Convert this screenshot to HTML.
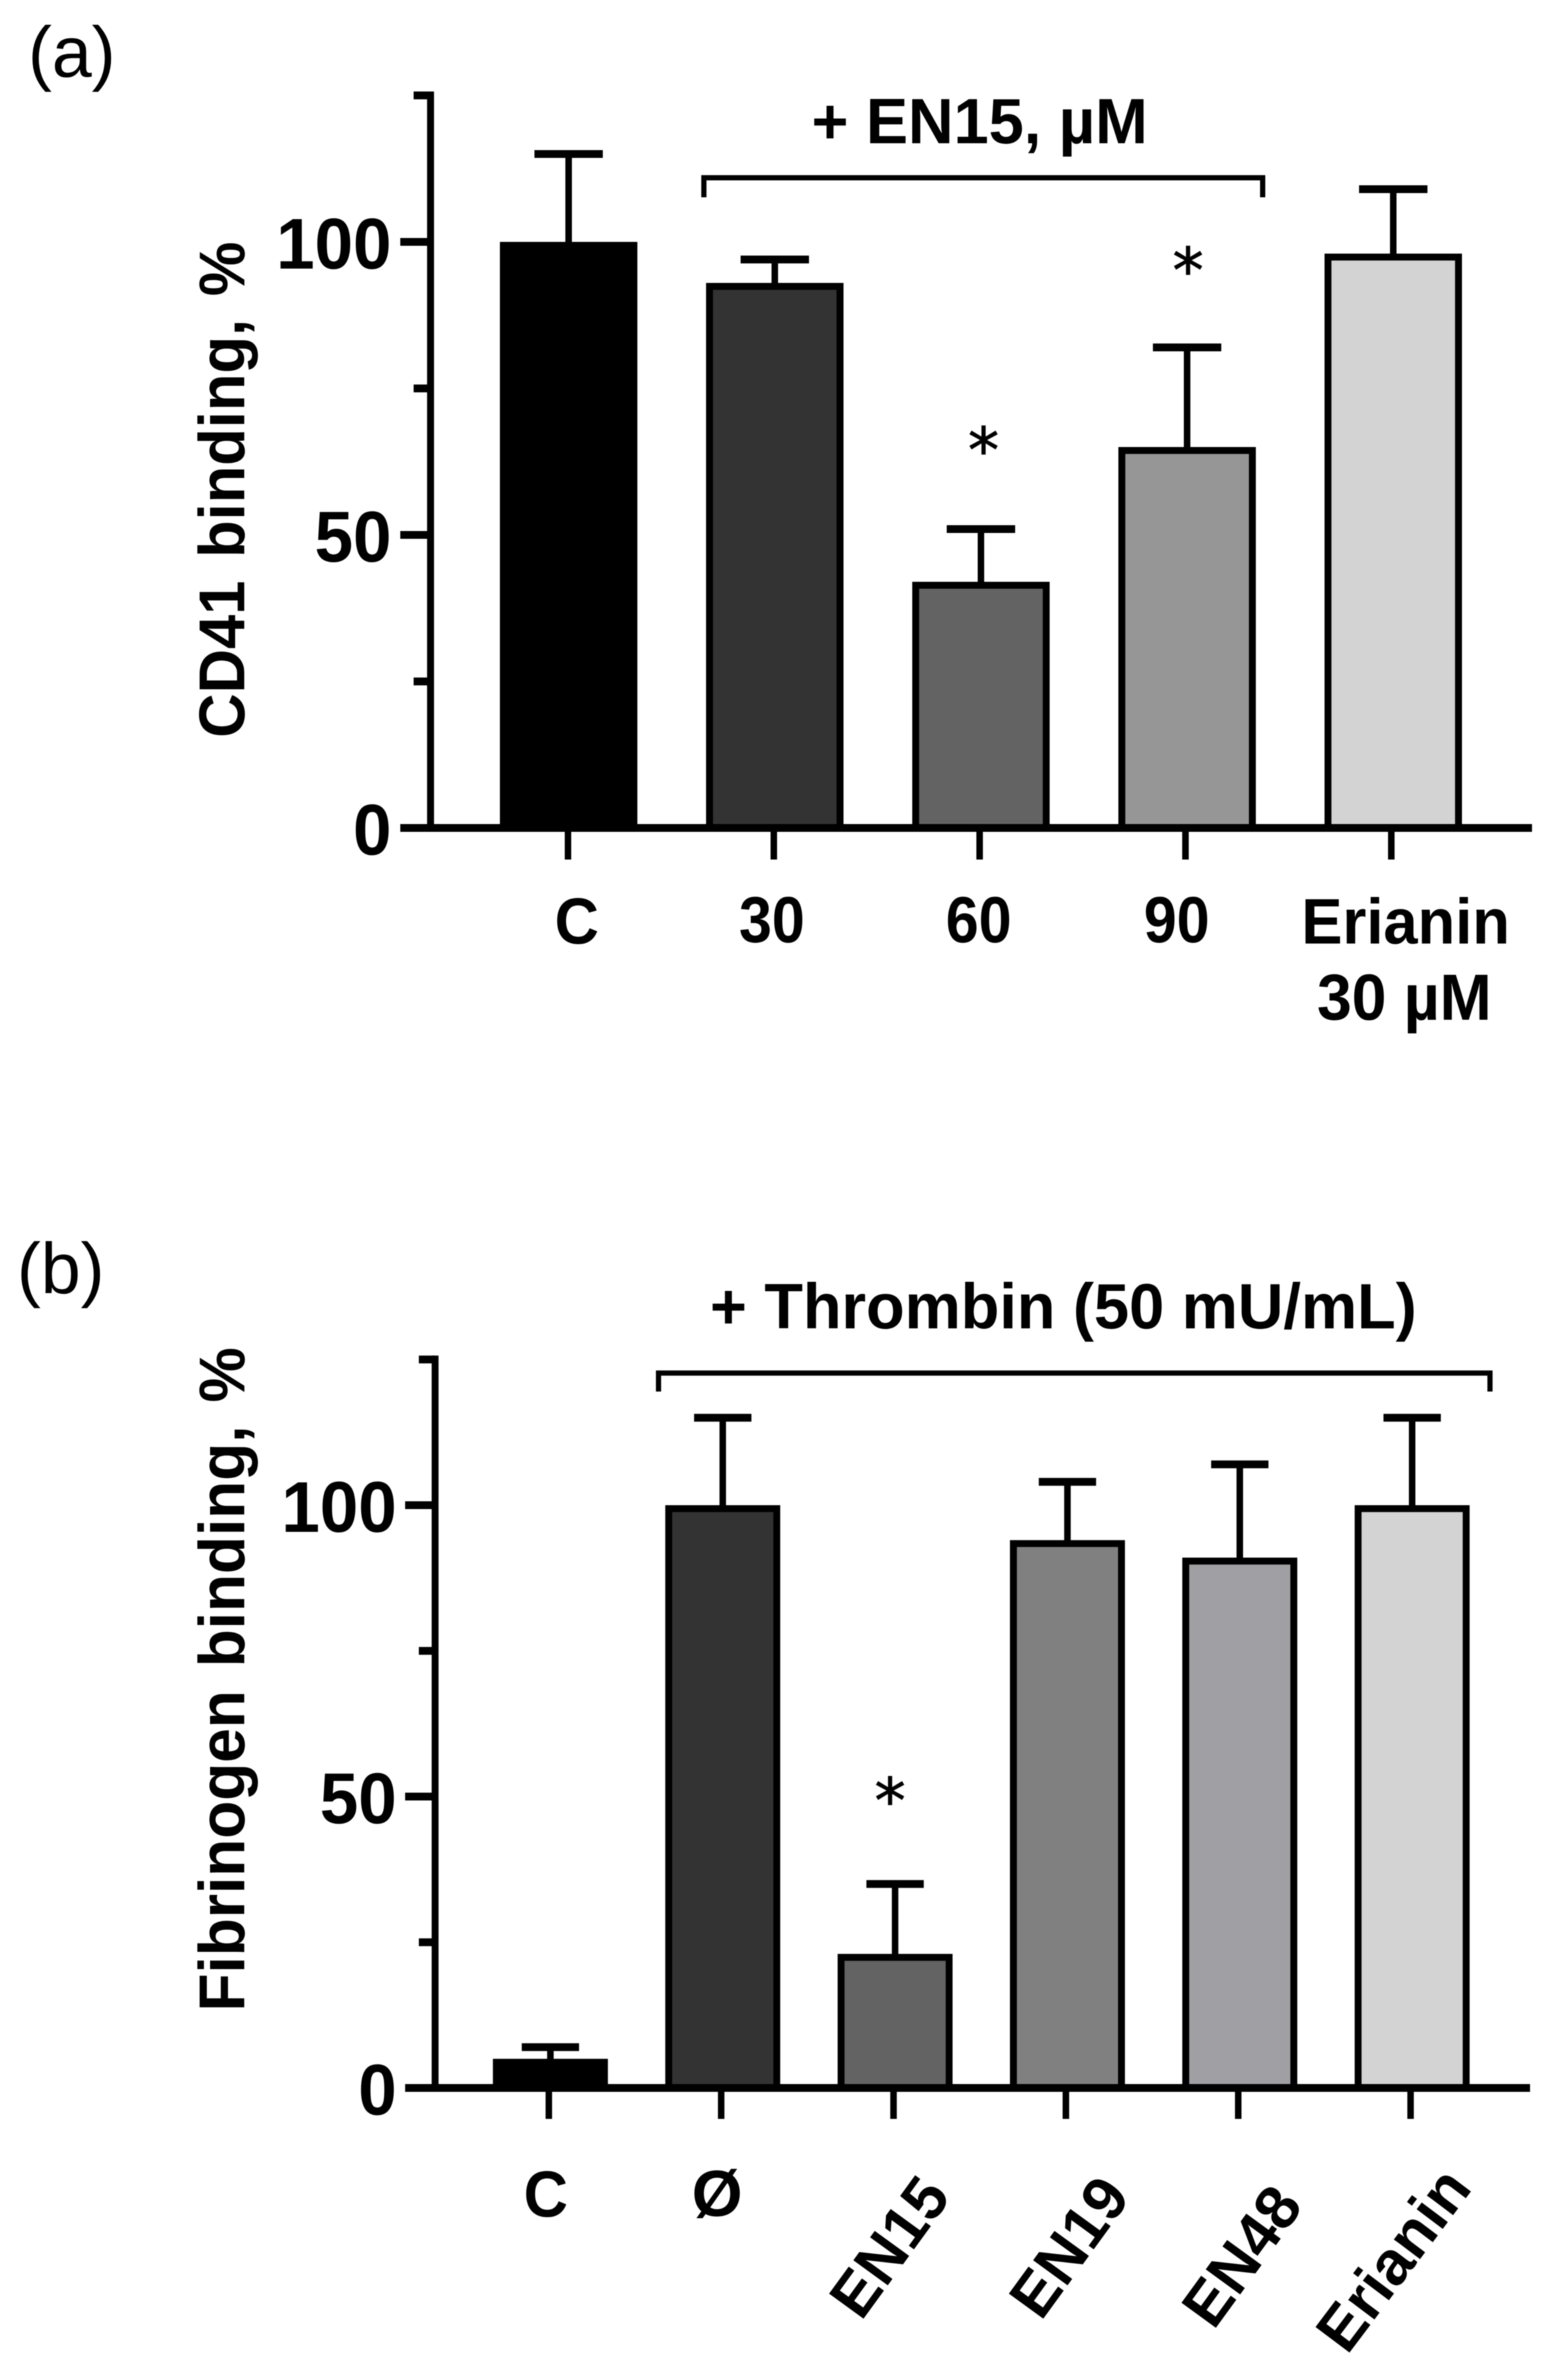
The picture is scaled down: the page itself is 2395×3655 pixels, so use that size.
<!DOCTYPE html>
<html lang="en">
<head>
<meta charset="utf-8">
<title>CD41 and fibrinogen binding bar charts</title>
<style>
html,body{margin:0;padding:0;background:#fff;}
svg{display:block;filter:blur(0.7px);}
text{font-family:"Liberation Sans",Arial,sans-serif;fill:#000;}
.b{font-weight:700;}
.star{font-family:"DejaVu Sans",sans-serif;stroke:#000;stroke-width:1.2px;}
</style>
</head>
<body>
<svg id="figure" xmlns="http://www.w3.org/2000/svg" width="2395" height="3655" viewBox="0 0 2395 3655">
  <rect x="0" y="0" width="2395" height="3655" fill="#ffffff"/>

  <g id="panel-a"></g>
  <g id="panel-b"></g>

  <text x="43" y="118" font-size="110">(a)</text>
  <text x="26" y="1986" font-size="110">(b)</text>

  <text class="b" transform="translate(375 1133) rotate(-90)" font-size="99" word-spacing="9" textLength="762" lengthAdjust="spacingAndGlyphs">CD41 binding, %</text>
  <text class="b" transform="translate(375 3089) rotate(-90)" font-size="99" word-spacing="9" textLength="1020" lengthAdjust="spacingAndGlyphs">Fibrinogen binding, %</text>

  <text class="b" x="1246" y="220" font-size="98" textLength="516" lengthAdjust="spacingAndGlyphs">+ EN15, µM</text>
  <polyline points="1080.6,303 1080.6,273 1938.5,273 1938.5,303" fill="none" stroke="#000" stroke-width="8"/>
  <text class="b" x="1090" y="2040" font-size="98" textLength="1085" lengthAdjust="spacingAndGlyphs">+ Thrombin (50 mU/mL)</text>
  <polyline points="1011,2137 1011,2108.6 2287.5,2108.6 2287.5,2137" fill="none" stroke="#000" stroke-width="8"/>

  <text class="star" x="1510" y="725" font-size="95" text-anchor="middle">*</text>
  <text class="star" x="1824" y="449" font-size="95" text-anchor="middle">*</text>
  <text class="star" x="1366.5" y="2799" font-size="95" text-anchor="middle">*</text>

  <text class="b" x="885.5" y="1449" font-size="100" text-anchor="middle" textLength="68" lengthAdjust="spacingAndGlyphs">C</text>
  <text class="b" x="1185" y="1447" font-size="100" text-anchor="middle" textLength="101" lengthAdjust="spacingAndGlyphs">30</text>
  <text class="b" x="1502.5" y="1447" font-size="100" text-anchor="middle" textLength="101" lengthAdjust="spacingAndGlyphs">60</text>
  <text class="b" x="1806.5" y="1447" font-size="100" text-anchor="middle" textLength="101" lengthAdjust="spacingAndGlyphs">90</text>
  <text class="b" x="2158" y="1449" font-size="98" text-anchor="middle" textLength="320" lengthAdjust="spacingAndGlyphs">Erianin</text>
  <text class="b" x="2156" y="1566" font-size="100" text-anchor="middle" textLength="268" lengthAdjust="spacingAndGlyphs">30 µM</text>

  <text class="b" x="838" y="3404" font-size="100" text-anchor="middle" textLength="68" lengthAdjust="spacingAndGlyphs">C</text>
  <text class="b" x="1101" y="3403" font-size="100" text-anchor="middle" textLength="78" lengthAdjust="spacingAndGlyphs">Ø</text>
  <text class="b" transform="translate(1322 3566) rotate(-54)" font-size="95">EN15</text>
  <text class="b" transform="translate(1598 3566) rotate(-54)" font-size="95">EN19</text>
  <text class="b" transform="translate(1863 3580) rotate(-54)" font-size="95">EN48</text>
  <text class="b" transform="translate(2068 3618) rotate(-53)" font-size="95">Erianin</text>
</svg>

<script>
// Panel (a) data: CD41 binding, %
const aCategories = ['C', '30', '60', '90', 'Erianin 30 µM'];
const aValues = [100, 93, 42, 65, 98];
const aErrorTops = [115, 97, 51, 82, 109];
const aFills = ['#000000', '#333333', '#636363', '#969696', '#d3d3d3'];

// Panel (b) data: Fibrinogen binding, %
const bCategories = ['C', 'Ø', 'EN15', 'EN19', 'EN48', 'Erianin'];
const bValues = [5, 100, 23, 94, 91, 100];
const bErrorTops = [7, 115, 35, 104, 107, 115];
const bFills = ['#000000', '#333333', '#636363', '#808080', '#a0a0a4', '#d3d3d3'];

// Shared axis ticks
const yTickValues = [0, 25, 50, 75, 100, 125];
const yTickLabels = ['0', '', '50', '', '100', ''];

const SVG_NS = 'http://www.w3.org/2000/svg';

function shape(parent, tag, attrs) {
  const el = document.createElementNS(SVG_NS, tag);
  Object.keys(attrs).forEach(function (k) { el.setAttribute(k, attrs[k]); });
  parent.appendChild(el);
  return el;
}

function drawPanel(parent, prefix, cats, values, errs, fills, scale) {
  const yPos = function (v) { return scale.y0 - v * scale.yUnit; };
  const barCenter = function (i) { return scale.barStart + i * scale.barStep; };
  const tickCenter = function (i) { return scale.tickStart + i * scale.tickStep; };
  const border = 10.6;

  cats.forEach(function (cat, i) {
    const slug = prefix + '-' + i;
    const cx = barCenter(i);
    const top = yPos(values[i]);
    const errTop = yPos(errs[i]);

    const stem = shape(parent, 'rect', { x: cx - 5, y: errTop, width: 10, height: top - errTop + 6, fill: '#000' });
    
    

    const cap = shape(parent, 'rect', { x: cx - scale.capWidth / 2, y: errTop - 6, width: scale.capWidth, height: 12, fill: '#000' });
    
    

    const bar = shape(parent, 'rect', {
      x: cx - scale.barWidth / 2 + border / 2,
      y: top + border / 2,
      width: scale.barWidth - border,
      height: scale.y0 - top - border / 2,
      fill: fills[i],
      stroke: '#000',
      'stroke-width': border
    });
    
    

    const tick = shape(parent, 'rect', { x: tickCenter(i) - 5, y: scale.y0, width: 10, height: scale.xTickBottom - scale.y0, fill: '#000' });
    
    
  });

  yTickValues.forEach(function (v, i) {
    const major = yTickLabels[i] !== '';
    const left = major ? scale.majorLeft : scale.minorLeft;
    const y = yPos(v);

    const tick = shape(parent, 'rect', { x: left, y: y - 6, width: scale.axisX - left, height: 12, fill: '#000' });
    
    

    if (major) {
      const label = shape(parent, 'text', {
        x: scale.labelRight,
        y: y + 41,
        'font-size': 110,
        'text-anchor': 'end',
        'font-weight': 700,
        textLength: yTickLabels[i].length * 59,
        lengthAdjust: 'spacingAndGlyphs'
      });
      label.textContent = yTickLabels[i];
      
      
    }
  });

  const yAxis = shape(parent, 'rect', { x: scale.axisX - 5.3, y: yPos(125) - 6, width: 10.6, height: scale.y0 - yPos(125) + 12, fill: '#000' });
  
  

  const xAxis = shape(parent, 'rect', { x: scale.majorLeft, y: scale.y0 - 6, width: scale.xAxisRight - scale.majorLeft, height: 12, fill: '#000' });
  
  
}

drawPanel(document.getElementById('panel-a'), 'a', aCategories, aValues, aErrorTops, aFills, {
  y0: 1271.5, yUnit: 9,
  barStart: 873, barStep: 316.5, barWidth: 211, capWidth: 105,
  tickStart: 872, tickStep: 316,
  xTickBottom: 1320, axisX: 661, majorLeft: 614.5, minorLeft: 635,
  labelRight: 601, xAxisRight: 2352
});

drawPanel(document.getElementById('panel-b'), 'b', bCategories, bValues, bErrorTops, bFills, {
  y0: 3206.5, yUnit: 8.95,
  barStart: 845, barStep: 264.6, barWidth: 176.5, capWidth: 88,
  tickStart: 842.6, tickStep: 264.6,
  xTickBottom: 3254, axisX: 668, majorLeft: 622, minorLeft: 643,
  labelRight: 609, xAxisRight: 2349
});
</script>
</body>
</html>
